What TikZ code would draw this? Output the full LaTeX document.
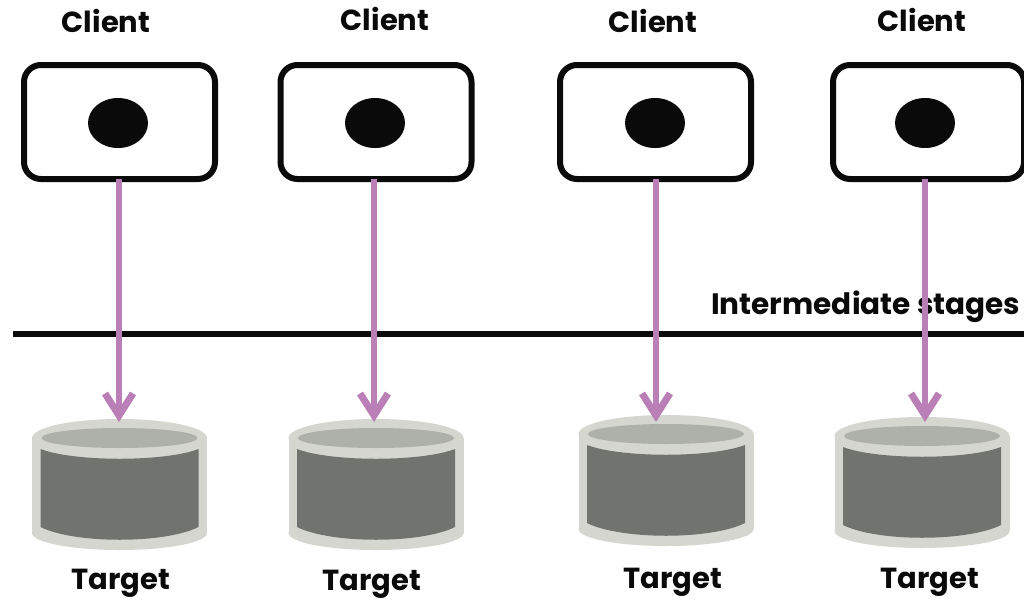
\documentclass[tikz,border=0pt]{standalone}
\usepackage{fontspec}
\setmainfont{Poppins}
\usetikzlibrary{arrows.meta,shapes.geometric}
\definecolor{plum}{HTML}{B97FB6}
\definecolor{rim}{HTML}{D5D6D0}
\definecolor{well}{HTML}{AEB0AA}
\definecolor{body}{HTML}{71736E}
\definecolor{ink}{HTML}{0A0A0A}
\tikzset{
  clientbox/.style={draw=ink,line width=6pt,rounded corners=17pt,minimum width=191pt,minimum height=114pt,inner sep=0pt,outer sep=0pt,fill=white},
  lens/.style={ellipse,fill=ink,minimum width=60pt,minimum height=50pt,inner sep=0pt},
  lbl/.style={font=\bfseries\fontsize{29}{29}\selectfont,text=ink,inner sep=0pt},
  flow/.style={draw=plum,line width=6.5pt,-{Straight Barb[length=22pt,width=28pt,line width=7pt]}},
  rule/.style={draw=ink,line width=6pt}
}
% #1 name, #2 centre x, #3 top y of the cylinder
\newcommand{\drum}[3]{%
  \begin{scope}[shift={(#2,#3)}]
    \fill[rim] (0,19) ellipse[x radius=87.5,y radius=19];
    \fill[rim] (-87.5,19) rectangle (87.5,114);
    \fill[rim] (0,114) ellipse[x radius=87.5,y radius=17];
    \fill[well] (0,19) ellipse[x radius=78,y radius=10];
    \fill[body] (-79,30) .. controls (-45,43) and (45,43) .. (79,30) -- (79,108)
      .. controls (45,125) and (-45,125) .. (-79,108) -- cycle;
  \end{scope}
}
\begin{document}
\begin{tikzpicture}[x=1pt,y=-1pt]
\useasboundingbox (0,0) rectangle (1024,600);
\fill[white] (0,0) rectangle (1024,600);
\drum{t1}{119.5}{419}
\drum{t2}{376}{419}
\drum{t3}{666}{415}
\drum{t4}{922}{417}
\node[clientbox] (c1) at (119.5,122) {};
\node[clientbox] (c2) at (376,122) {};
\node[clientbox] (c3) at (655.5,122) {};
\node[clientbox] (c4) at (928.5,122) {};
\node[lens] (d1) at (118,123) {};
\node[lens] (d2) at (375,123) {};
\node[lens] (d3) at (655,123) {};
\node[lens] (d4) at (925,123) {};
\node[lbl] (l1) at (106,21) {Client};
\node[lbl] (l2) at (385,19) {Client};
\node[lbl] (l3) at (653,21) {Client};
\node[lbl] (l4) at (922,20) {Client};
\node[lbl] (b1) at (121,583) {Target};
\node[lbl] (b2) at (372,584) {Target};
\node[lbl] (b3) at (673,582) {Target};
\node[lbl] (b4) at (930,582) {Target};
\node[lbl,font=\bfseries\fontsize{29.5}{30}\selectfont,anchor=west] (im) at (711,307) {Intermediate stages};
\coordinate (r1) at (13,334);
\coordinate (r2) at (1024,334);
\draw[rule] (r1) -- (r2);
\coordinate (a1) at (119,422);
\coordinate (a2) at (374,422);
\coordinate (a3) at (656,422);
\coordinate (a4) at (925,422);
\draw[flow] (c1.south -| a1) -- (a1);
\draw[flow] (c2.south -| a2) -- (a2);
\draw[flow] (c3.south -| a3) -- (a3);
\draw[flow] (c4.south -| a4) -- (a4);
\end{tikzpicture}
\end{document}
